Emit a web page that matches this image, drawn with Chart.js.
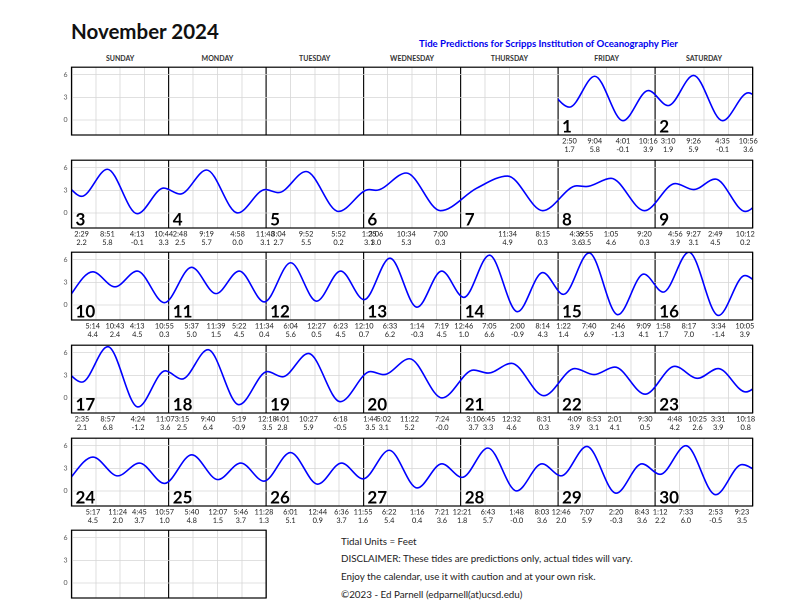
<!DOCTYPE html>
<html><head><meta charset="utf-8">
<script src="https://cdn.jsdelivr.net/npm/chart.js@4.4.1/dist/chart.umd.min.js"></script>
<style>
html,body{margin:0;padding:0;background:#fff;}
body{width:800px;height:602px;position:relative;overflow:hidden;font-family:Lato,"Noto Sans",sans-serif;}
#title{position:absolute;left:71px;top:19px;font-weight:bold;font-size:20.5px;color:#111;white-space:nowrap;}
#subtitle{position:absolute;left:419px;top:38px;font-weight:bold;font-size:9.6px;color:#0000ee;white-space:nowrap;}
.dname{position:absolute;top:54px;font-weight:bold;font-size:7px;color:#333;text-align:center;}
#notes{position:absolute;left:341px;top:532.5px;font-size:9.8px;color:#222;line-height:17.7px;white-space:nowrap;}
canvas{position:absolute;left:0;}
</style></head><body>
<div id="title"></div>
<div id="subtitle"></div>
<div id="notes"></div>
<script>
// ---------- data ----------
const monthTitle = "November 2024";
const subtitle = "Tide Predictions for Scripps Institution of Oceanography Pier";
const weekdays = ["SUNDAY","MONDAY","TUESDAY","WEDNESDAY","THURSDAY","FRIDAY","SATURDAY"];
const firstWeekday = 5;      // Nov 1 2024 is a Friday
const daysInMonth = 30;
const calendarRows = 6;
const yTicks = [0, 3, 6];
const notes = ["Tidal Units = Feet",
  "DISCLAIMER: These tides are predictions only, actual tides will vary.",
  "Enjoy the calendar, use it with caution and at your own risk.",
  "\u00A92023 - Ed Parnell (edparnell(at)ucsd.edu)"];

// tide extremes: day of month, local time (24h), height (ft)
// day 0 = Oct 31 and day 31 = Dec 1 (edge values, not labelled)
const tideDays = [0,
  1,1,1,1, 2,2,2,2, 3,3,3,3, 4,4,4,4, 5,5,5, 6,6,6,6, 7,7, 8,8,8,8, 9,9,9,9,
  10,10,10,10, 11,11,11,11, 12,12,12, 13,13,13,13, 14,14,14,14, 15,15,15,15, 16,16,16,16,
  17,17,17,17, 18,18,18, 19,19,19,19, 20,20,20,20, 21,21,21,21, 22,22,22,22, 23,23,23,23,
  24,24,24,24, 25,25,25,25, 26,26,26,26, 27,27,27, 28,28,28,28, 29,29,29,29, 30,30,30,30,
  31];
const tideTimes = ["21:40",
  "02:50","09:04","16:01","22:16", "03:10","09:26","16:35","22:56",
  "02:29","08:51","16:13","22:44", "02:48","09:19","16:58","23:48",
  "03:04","09:52","17:52", "01:25","03:06","10:34","19:00", "11:34","20:15",
  "04:39","06:55","13:05","21:20", "04:56","09:27","14:49","22:12",
  "05:14","10:43","16:13","22:55", "05:37","11:39","17:22","23:34",
  "06:04","12:27","18:23", "00:10","06:33","13:14","19:19",
  "00:46","07:05","14:00","20:14", "01:22","07:40","14:46","21:09",
  "01:58","08:17","15:34","22:05",
  "02:35","08:57","16:24","23:07", "03:15","09:40","17:19",
  "00:18","04:01","10:27","18:18", "01:44","05:02","11:22","19:24",
  "03:10","06:45","12:32","20:31", "04:09","08:53","14:01","21:30",
  "04:48","10:25","15:31","22:18",
  "05:17","11:24","16:45","22:57", "05:40","12:07","17:46","23:28",
  "06:01","12:44","18:36","23:55", "06:22","13:16","19:21",
  "00:21","06:43","13:48","20:03", "00:46","07:07","14:20","20:43",
  "01:12","07:33","14:53","21:23",
  "01:45"];
const tideHeights = [4.1,
  1.7,5.8,-0.1,3.9, 1.9,5.9,-0.1,3.6,
  2.2,5.8,-0.1,3.3, 2.5,5.7,0.0,3.1,
  2.7,5.5,0.2, 3.1,3.0,5.3,0.3, 4.9,0.3,
  3.6,3.5,4.6,0.3, 3.9,3.1,4.5,0.2,
  4.4,2.4,4.5,0.3, 5.0,1.5,4.5,0.4,
  5.6,0.5,4.5, 0.7,6.2,-0.3,4.5,
  1.0,6.6,-0.9,4.3, 1.4,6.9,-1.3,4.1,
  1.7,7.0,-1.4,3.9,
  2.1,6.8,-1.2,3.6, 2.5,6.4,-0.9,
  3.5,2.8,5.9,-0.5, 3.5,3.1,5.2,-0.0,
  3.7,3.3,4.6,0.3, 3.9,3.1,4.1,0.5,
  4.2,2.6,3.9,0.8,
  4.5,2.0,3.7,1.0, 4.8,1.5,3.7,1.3,
  5.1,0.9,3.7,1.6, 5.4,0.4,3.6,
  1.8,5.7,-0.0,3.6, 2.0,5.9,-0.3,3.6,
  2.2,6.0,-0.5,3.5,
  2.4];
// unlabelled curve point (shelf on Nov 7 morning)
const shelfDays = [7];
const shelfTimes = ["04:00"];
const shelfHeights = [3.3];

// ---------- layout ----------
const GRID_LEFT = 71.5, DAY_W = 97.3, PLOT_H = 70, PAD_TOP = 6, PAD_BOTTOM = 24, Y_AXIS_W = 20;
const ROW_TOPS = [64.5, 157.5, 250.2, 342.9, 435.6, 528.0];
const CURVE_COLOR = '#0000ff';
const FONT = 'Lato, "Noto Sans", sans-serif';

document.getElementById('title').textContent = monthTitle;
document.getElementById('subtitle').textContent = subtitle;
document.getElementById('notes').innerHTML = notes.map(s => '<div>' + s.replace(/&/g,'&amp;') + '</div>').join('');
weekdays.forEach((w, i) => {
  const d = document.createElement('div');
  d.className = 'dname';
  d.style.left = (GRID_LEFT + i * DAY_W) + 'px';
  d.style.width = DAY_W + 'px';
  d.textContent = w;
  document.body.appendChild(d);
});

function hoursOf(t) { const [h, m] = t.split(':').map(Number); return h + m / 60; }
function label12(t) { let [h, m] = t.split(':'); h = Number(h) % 12; if (h === 0) h = 12; return h + ':' + m; }
function fmtH(v) { return (Object.is(v, -0) ? '-' : '') + v.toFixed(1); }
function xOf(day, t) { return (day - 1 + firstWeekday) * 24 + hoursOf(t); }

const points = tideDays.map((d, i) => ({
  x: xOf(d, tideTimes[i]), y: tideHeights[i],
  day: d, t: label12(tideTimes[i]), h: fmtH(tideHeights[i])
}));
const curvePoints = points.map(p => ({ x: p.x, y: p.y }))
  .concat(shelfDays.map((d, i) => ({ x: xOf(d, shelfTimes[i]), y: shelfHeights[i] })))
  .sort((a, b) => a.x - b.x);
const monthStartX = firstWeekday * 24;
const monthEndX = (firstWeekday + daysInMonth) * 24;

const tidePlugin = {
  id: 'tidePlugin',
  beforeDatasetsDraw(chart) {
    const { ctx, chartArea: a, scales: { x } } = chart;
    const l = Math.max(a.left, x.getPixelForValue(monthStartX));
    const r = Math.min(a.right, x.getPixelForValue(monthEndX));
    ctx.save();
    ctx.beginPath();
    ctx.rect(l, a.top - 2, Math.max(0, r - l), a.bottom - a.top + 4);
    ctx.clip();
  },
  afterDatasetsDraw(chart) { chart.ctx.restore(); },
  afterDraw(chart) {
    const { ctx, chartArea: a, scales: { x } } = chart;
    const row = chart.options.plugins.tidePlugin.row;
    ctx.save();
    ctx.strokeStyle = '#000';
    ctx.lineWidth = 1.2;
    ctx.strokeRect(a.left, a.top, a.right - a.left, a.bottom - a.top);
    // day numbers
    ctx.fillStyle = '#000';
    ctx.font = 'bold 17px ' + FONT;
    ctx.textAlign = 'left';
    ctx.textBaseline = 'alphabetic';
    for (let c = 0; c < 7; c++) {
      const p = row * 7 + c;
      const d = p - firstWeekday + 1;
      if (d >= 1 && d <= daysInMonth) ctx.fillText(String(d), x.getPixelForValue(p * 24) + 4, a.bottom - 2.5);
    }
    // extreme labels
    ctx.font = '7.4px ' + FONT;
    ctx.fillStyle = '#222';
    ctx.textAlign = 'center';
    ctx.textBaseline = 'middle';
    points.forEach(pt => {
      if (pt.day < 1 || pt.day > daysInMonth) return;
      const p = pt.day - 1 + firstWeekday;
      if (Math.floor(p / 7) !== row) return;
      const px = x.getPixelForValue(pt.x);
      ctx.fillText(pt.t, px, a.bottom + 6);
      ctx.fillText(pt.h, px, a.bottom + 14.5);
    });
    ctx.restore();
  }
};

for (let r = 0; r < calendarRows; r++) {
  const nCells = r === calendarRows - 1 ? 2 : 7;
  const min = r * 168, max = min + nCells * 24;
  // points in range plus one neighbour either side
  let data = [];
  if (min < monthEndX) {
    let i0 = curvePoints.findIndex(p => p.x >= min); if (i0 < 0) i0 = curvePoints.length;
    let i1 = curvePoints.findIndex(p => p.x > max); if (i1 < 0) i1 = curvePoints.length - 1;
    data = curvePoints.slice(Math.max(0, i0 - 1), i1 + 1);
  }
  const cv = document.createElement('canvas');
  const H = PAD_TOP + PLOT_H + PAD_BOTTOM;
  cv.width = 800; cv.height = H;
  cv.style.width = '800px'; cv.style.height = H + 'px';
  cv.style.top = (ROW_TOPS[r] - PAD_TOP) + 'px';
  document.body.appendChild(cv);
  const right = GRID_LEFT + nCells * DAY_W;
  new Chart(cv, {
    type: 'line',
    data: { datasets: [{ data, borderColor: CURVE_COLOR, borderWidth: 1.6, pointRadius: 0, fill: false, cubicInterpolationMode: 'monotone' }] },
    options: {
      responsive: false, animation: false, devicePixelRatio: 2,
      layout: { padding: { left: GRID_LEFT - Y_AXIS_W, right: 800 - right, top: PAD_TOP, bottom: PAD_BOTTOM } },
      plugins: { legend: { display: false }, tooltip: { enabled: false }, tidePlugin: { row: r } },
      events: [],
      scales: {
        x: {
          type: 'linear', min, max,
          afterBuildTicks: s => { const t = []; for (let v = min; v <= max + 1e-6; v += 6) t.push({ value: v }); s.ticks = t; },
          afterFit: s => { s.height = 0; },
          ticks: { display: false },
          border: { display: false },
          grid: { drawTicks: false,
            color: c => (c.tick && Math.round(c.tick.value) % 24 === 0) ? '#111' : '#d6d6d6',
            lineWidth: c => (c.tick && Math.round(c.tick.value) % 24 === 0) ? 1.2 : 0.8 }
        },
        y: {
          min: -2, max: 7,
          afterBuildTicks: s => { s.ticks = yTicks.map(v => ({ value: v })); },
          afterFit: s => { s.width = Y_AXIS_W; },
          ticks: { color: '#555', font: { size: 7, family: FONT }, padding: 4 },
          border: { display: false },
          grid: { drawTicks: false, color: '#d6d6d6', lineWidth: 0.8 }
        }
      }
    },
    plugins: [tidePlugin]
  });
}
</script>
</body></html>
